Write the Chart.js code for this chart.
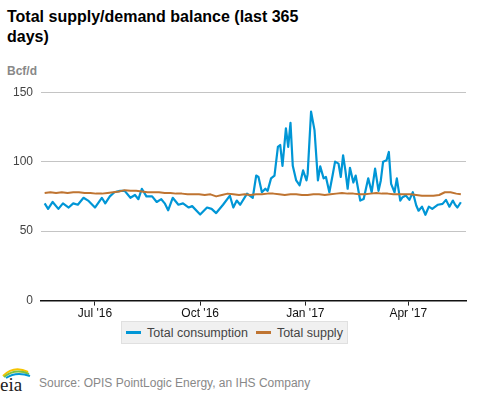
<!DOCTYPE html>
<html lang="en">
<head>
    <meta charset="UTF-8">
    <title>Total supply/demand balance</title>
    <script src="https://cdn.jsdelivr.net/npm/chart.js"></script>
    <style>
        body { margin: 0; width: 477px; height: 393px; background: #fff; font-family: "Liberation Sans", Arial, sans-serif; position: relative; overflow: hidden; }
        .title { position: absolute; left: 7px; top: 7px; font-size: 16px; font-weight: bold; line-height: 20px; color: #000; }
        .unit { position: absolute; left: 7px; top: 64px; font-size: 12px; font-weight: bold; color: #888; }
        .chart-box { position: absolute; left: 0; top: 77px; width: 477px; height: 245px; }
        .legend { position: absolute; left: 121px; top: 321px; width: 227px; height: 23px; background: #f0f0f0; border: 1px solid #e0e0e0; box-sizing: border-box; display: flex; align-items: center; justify-content: center; font-size: 12.5px; color: #444; }
        .legend span.sw { display: inline-block; width: 15px; height: 3px; margin-right: 6px; }
        .legend .item { display: flex; align-items: center; margin: 0 4px; }
        .source { position: absolute; left: 39px; top: 376px; font-size: 12px; color: #888; }
        .logo { position: absolute; left: 0; top: 364px; }
    </style>
</head>
<body>
    <div class="title">Total supply/demand balance (last 365<br>days)</div>
    <div class="unit">Bcf/d</div>
    <div class="chart-box"><canvas id="chart"></canvas></div>
    <div class="legend" id="legend"></div>
    <svg class="logo" width="32" height="29" viewBox="0 0 32 29">
        <path d="M3 12 Q14 1 28 8" stroke="#f5c400" stroke-width="2" fill="none"/>
        <path d="M4 13 Q15 4 29 10" stroke="#7cc243" stroke-width="2" fill="none"/>
        <path d="M6 14 Q16 7 30 12" stroke="#0096d6" stroke-width="2" fill="none"/>
        <text x="0" y="27" font-family="Liberation Serif, serif" font-size="19" fill="#222">eia</text>
    </svg>
    <div class="source">Source: OPIS PointLogic Energy, an IHS Company</div>

    <script>
        // days counted from May 18 2016 (day 0) to May 17 2017 (day 364)
        const tickDays = [44, 136, 228, 318];
        const tickLabels = ["Jul '16", "Oct '16", "Jan '17", "Apr '17"];

        const consumptionDays = [0, 3, 7, 12, 16, 21, 25, 29, 34, 38, 44, 50, 53, 57, 61, 66, 70, 75, 79, 82,
            85, 89, 94, 98, 102, 105, 108, 112, 117, 121, 126, 129, 136, 142, 146, 150, 156, 162, 165, 168,
            171, 177, 182, 185, 187, 190, 193, 195, 198, 201, 204, 206, 208, 211, 213, 215, 217, 220, 223, 226,
            229, 230, 233, 236, 239, 241, 244, 246, 249, 252, 254, 257, 259, 261, 263, 265, 267, 270, 272, 276,
            279, 283, 286, 289, 292, 294, 296, 299, 301, 303, 306, 308, 311, 313, 316, 319, 322, 325, 327, 330,
            333, 336, 339, 344, 348, 351, 354, 357, 359, 361, 364];
        const consumptionValues = [70, 66, 71, 66, 70, 67, 70, 69, 74, 72, 67, 74, 70, 75, 78, 79, 79, 74, 76, 73,
            80.5, 75, 75, 71, 73, 70, 65, 74, 69, 70, 67, 68, 62, 67, 66, 63, 69, 75.5, 67, 72,
            69, 77, 74, 90, 89, 78, 80.5, 79, 88, 90, 110.6, 112, 97, 124, 110.6, 128, 97, 86.5, 83, 93.7,
            86.5, 91, 136, 122.7, 86.5, 96.6, 88, 89, 78, 91, 100, 98.6, 89, 104.6, 93.7, 80.5, 95.6, 85, 90, 72,
            73.2, 88, 78, 95, 79, 86.5, 100, 101, 107, 84, 78, 88, 72, 74.4, 75.6, 72.5, 78, 68.4, 64.7, 67.6,
            61.8, 67.6, 66, 69, 69.6, 72.5, 67.6, 72, 69, 67, 70.8];

        const supplyDays = [0, 5, 10, 15, 20, 25, 30, 35, 40, 45, 50, 55, 60, 65, 70, 75, 80, 85, 90, 95,
            100, 105, 110, 115, 120, 125, 130, 135, 140, 145, 150, 155, 160, 165, 170, 175, 180, 185, 190, 195,
            200, 205, 210, 215, 220, 225, 230, 235, 240, 245, 250, 255, 260, 265, 270, 275, 280, 285, 290, 295,
            300, 305, 310, 315, 320, 325, 330, 335, 340, 345, 350, 355, 360, 364];
        const supplyValues = [77.5, 78, 77.5, 78, 77.5, 78, 78, 77.5, 77.5, 77, 77, 77.5, 78, 78.5, 79.5, 79, 79, 78.5, 78, 78,
            78, 77.5, 77.5, 77, 77, 76.5, 76.5, 76.5, 76, 76.5, 75, 76, 77, 76.5, 76, 76.5, 76, 76.5, 76.5, 77,
            77, 76.5, 76, 76.5, 76.5, 76, 76, 76.5, 76.5, 76, 76.5, 77, 77.5, 77, 77, 76.5, 76.5, 77, 77.5, 77,
            77, 76.5, 76.5, 76.5, 76.5, 76, 75.5, 75.5, 75.5, 76, 78, 78, 77, 76.5];

        const seriesNames = ['Total consumption', 'Total supply'];
        const seriesColors = ['#0096d6', '#bf7431'];

        const toPoints = (days, vals) => days.map((d, i) => ({ x: d, y: vals[i] }));

        new Chart(document.getElementById('chart'), {
            type: 'line',
            data: {
                datasets: [
                    { label: seriesNames[1], data: toPoints(supplyDays, supplyValues), borderColor: seriesColors[1], borderWidth: 2, borderJoinStyle: 'round', pointRadius: 0, tension: 0 },
                    { label: seriesNames[0], data: toPoints(consumptionDays, consumptionValues), borderColor: seriesColors[0], borderWidth: 2.2, borderJoinStyle: 'round', pointRadius: 0, tension: 0 }
                ]
            },
            options: {
                responsive: true,
                maintainAspectRatio: false,
                animation: false,
                layout: { padding: { top: 0, right: 11, left: 0, bottom: 0 } },
                plugins: { legend: { display: false }, tooltip: { enabled: false } },
                scales: {
                    x: {
                        type: 'linear',
                        min: -3.2,
                        max: 368.5,
                        afterBuildTicks: axis => { axis.ticks = tickDays.map(v => ({ value: v })); },
                        ticks: {
                            autoSkip: false,
                            maxRotation: 0,
                            padding: 1,
                            color: '#111',
                            font: { family: 'Liberation Sans', size: 12 },
                            callback: (v, i) => tickLabels[i]
                        },
                        grid: { display: true, drawOnChartArea: false, drawTicks: true, tickLength: 5, color: '#222' },
                        border: { display: true, color: '#111', width: 1.5 }
                    },
                    y: {
                        min: 0,
                        max: 150,
                        afterFit: axis => { axis.width = 41; },
                        ticks: {
                            stepSize: 50,
                            padding: 8,
                            color: '#444',
                            font: { family: 'Liberation Sans', size: 12 }
                        },
                        grid: { color: '#c4c4c4', lineWidth: 1, drawTicks: false },
                        border: { display: false }
                    }
                }
            }
        });

        // legend built from the series names
        const legend = document.getElementById('legend');
        seriesNames.forEach((name, i) => {
            const item = document.createElement('div');
            item.className = 'item';
            item.innerHTML = '<span class="sw" style="background:' + seriesColors[i] + '"></span>' + name;
            legend.appendChild(item);
        });
    </script>
</body>
</html>
